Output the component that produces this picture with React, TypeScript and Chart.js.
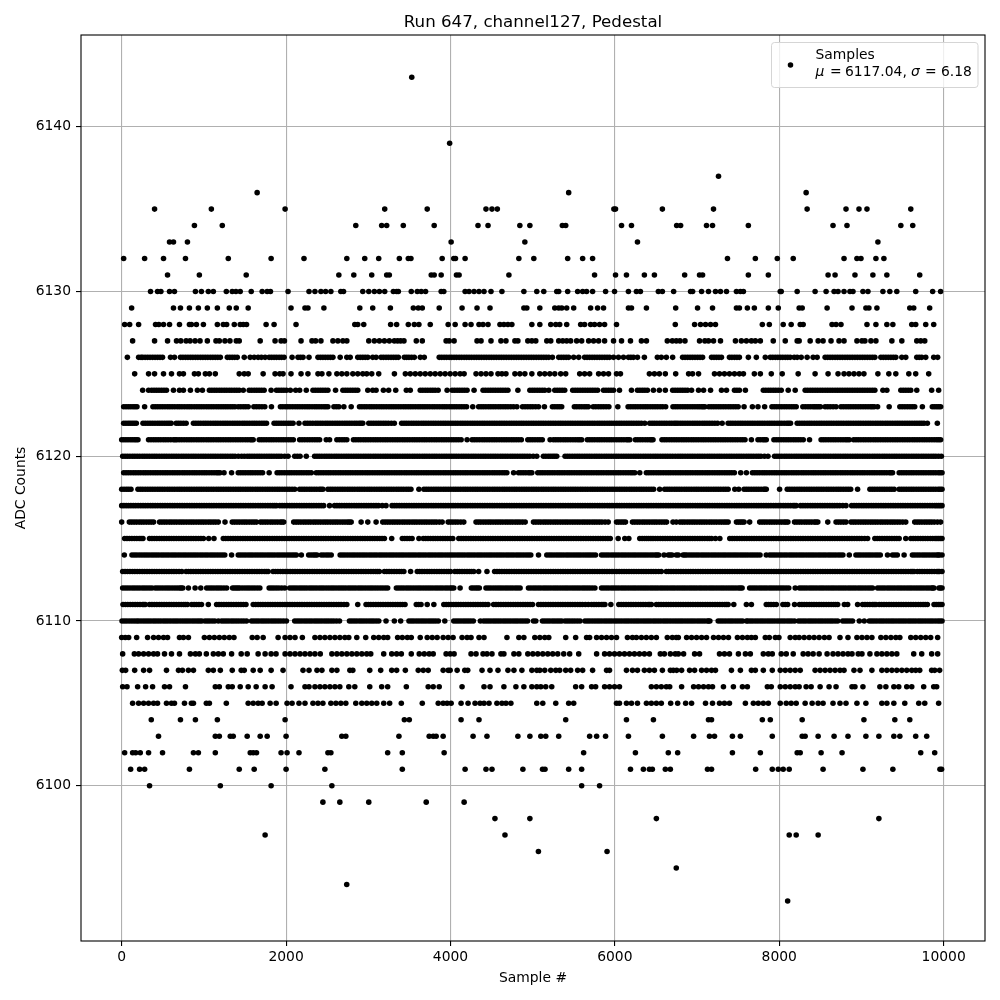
import React, { useEffect, useRef } from "react";
import { Chart, registerables } from "chart.js";

Chart.register(...registerables);

const titleText = "Run 647, channel127, Pedestal";
const xLabel = "Sample #";
const yLabel = "ADC Counts";
const legendName = "Samples";
const xTicks = [0, 2000, 4000, 6000, 8000, 10000];
const yTicks = [6100, 6110, 6120, 6130, 6140];

const s6143 = [3529];
const s6139 = [3990];
const s6137 = [7261];
const s6136 = [1648, 5438, 8327];
const s6135 = [400, 1091, 1988, 3200, 3717, 4432, 4505, 4570, 5988, 6008, 6578, 7200, 8339, 8812, 8970, 9067, 9600];
const s6134 = [885, 1224, 2848, 3163, 3224, 3426, 3802, 4335, 4457, 4844, 4966, 5361, 5402, 6081, 6202, 6752, 6800, 7115, 7188, 7624, 8654, 8824, 9479, 9624];
const s6133 = [582, 630, 800, 4008, 4905, 6275, 9200];
const s6132 = [24, 279, 509, 776, 1297, 1818, 2218, 2739, 2957, 3127, 3378, 3487, 3519, 3899, 4040, 4061, 4178, 4832, 5014, 5426, 5608, 5729, 7370, 7709, 7976, 8170, 8788, 8945, 8994, 9176, 9273];
const s6131 = [558, 945, 1515, 2642, 2824, 3042, 3224, 3256, 3766, 3802, 3887, 4073, 4105, 4711, 5753, 6008, 6141, 6359, 6481, 6849, 7030, 7067, 7624, 7867, 8594, 8679, 8921, 9139, 9309, 9709];
const s6130 = [351, 436, 477, 582, 642, 897, 970, 1054, 1115, 1273, 1345, 1390, 1442, 1576, 1709, 1770, 1810, 2024, 2279, 2351, 2424, 2481, 2545, 2666, 2699, 2933, 3006, 3074, 3135, 3200, 3305, 3345, 3366, 3523, 3596, 3644, 3697, 3887, 3919, 4178, 4226, 4287, 4347, 4408, 4493, 4626, 4893, 5050, 5135, 5293, 5317, 5426, 5547, 5608, 5656, 5729, 5887, 5996, 6165, 6262, 6311, 6529, 6578, 6715, 6921, 6946, 7055, 7139, 7224, 7285, 7358, 7479, 7527, 7564, 8012, 8024, 8218, 8436, 8570, 8667, 8715, 8788, 8860, 8897, 9018, 9079, 9261, 9345, 9430, 9660, 9866, 9963];
const s6129 = [121, 630, 715, 824, 933, 1042, 1164, 1309, 1394, 1539, 2060, 2230, 2266, 2460, 2897, 3054, 3269, 3548, 3608, 3657, 3863, 4141, 4323, 4481, 4893, 4929, 5087, 5269, 5317, 5354, 5414, 5499, 5705, 5790, 5862, 6165, 6202, 6384, 6740, 7006, 7188, 7479, 7515, 7612, 7697, 7867, 7988, 8242, 8279, 8582, 8885, 9054, 9091, 9188, 9588, 9636, 9830];
const s6128 = [36, 97, 206, 412, 452, 509, 582, 703, 824, 848, 909, 994, 1164, 1236, 1277, 1370, 1442, 1479, 1519, 1757, 1854, 2121, 2836, 2872, 2945, 3272, 3345, 3487, 3560, 3616, 3754, 3972, 4057, 4178, 4250, 4347, 4396, 4457, 4602, 4650, 4699, 4747, 4990, 5087, 5220, 5281, 5329, 5414, 5584, 5632, 5705, 5753, 5814, 5875, 6020, 6735, 6970, 7042, 7103, 7164, 7224, 7794, 7879, 8048, 8145, 8255, 8291, 8642, 8691, 8751, 9067, 9176, 9309, 9382, 9612, 9660, 9782, 9879];
const s6127 = [133, 400, 558, 667, 719, 784, 832, 893, 953, 1042, 1147, 1188, 1256, 1317, 1394, 1430, 1685, 1866, 1939, 1980, 2182, 2315, 2359, 2424, 2570, 2630, 2691, 2739, 3006, 3074, 3135, 3196, 3256, 3317, 3357, 3394, 3434, 3584, 3657, 3947, 3984, 4044, 4323, 4372, 4493, 4614, 4675, 4784, 4820, 4941, 4990, 5038, 5172, 5220, 5317, 5366, 5414, 5462, 5535, 5596, 5681, 5741, 5802, 5875, 5984, 6081, 6190, 6323, 6384, 6638, 6699, 6747, 6792, 6853, 7030, 7095, 7139, 7200, 7285, 7467, 7539, 7600, 7661, 7709, 7770, 7927, 8073, 8218, 8242, 8376, 8473, 8533, 8630, 8727, 8788, 8945, 9006, 9042, 9115, 9176, 9370, 9491, 9673, 9721, 9770];
const s6126 = [69, 206, 235, 255, 285, 315, 345, 376, 406, 436, 466, 497, 594, 642, 715, 745, 776, 806, 836, 866, 897, 927, 958, 988, 1018, 1048, 1079, 1109, 1139, 1169, 1200, 1285, 1315, 1345, 1375, 1406, 1491, 1563, 1612, 1660, 1700, 1745, 1794, 1824, 1854, 1884, 1915, 1945, 1976, 2073, 2145, 2175, 2206, 2279, 2388, 2418, 2448, 2478, 2509, 2539, 2570, 2658, 2739, 2780, 2872, 2902, 2933, 2963, 2994, 3054, 3095, 3155, 3185, 3216, 3246, 3277, 3307, 3337, 3366, 3439, 3467, 3495, 3527, 3560, 3633, 3681, 3863, 3893, 3923, 3953, 3984, 4014, 4044, 4074, 4105, 4135, 4166, 4196, 4226, 4256, 4287, 4317, 4347, 4377, 4408, 4438, 4469, 4499, 4529, 4559, 4590, 4620, 4650, 4680, 4711, 4741, 4772, 4802, 4832, 4862, 4893, 4923, 4954, 4984, 5014, 5044, 5075, 5105, 5135, 5165, 5196, 5240, 5317, 5347, 5378, 5408, 5438, 5499, 5560, 5632, 5662, 5693, 5723, 5753, 5783, 5814, 5844, 5875, 5905, 5935, 5984, 6044, 6105, 6165, 6195, 6226, 6275, 6359, 6517, 6565, 6626, 6703, 6824, 6854, 6885, 6915, 6945, 6975, 7006, 7036, 7067, 7176, 7206, 7236, 7266, 7297, 7394, 7424, 7455, 7485, 7515, 7624, 7721, 7830, 7891, 7921, 7952, 7982, 8012, 8042, 8073, 8103, 8133, 8182, 8218, 8267, 8339, 8412, 8461, 8558, 8588, 8618, 8648, 8679, 8709, 8739, 8769, 8800, 8830, 8860, 8890, 8921, 8951, 8982, 9012, 9042, 9072, 9103, 9133, 9163, 9236, 9266, 9297, 9327, 9358, 9388, 9418, 9491, 9539, 9673, 9703, 9733, 9782, 9879, 9927];
const s6125 = [158, 327, 400, 509, 606, 703, 751, 885, 933, 1018, 1067, 1139, 1430, 1491, 1539, 1721, 1866, 1923, 1963, 2060, 2182, 2266, 2388, 2436, 2521, 2618, 2678, 2739, 2812, 2872, 2933, 2981, 3042, 3127, 3318, 3451, 3511, 3572, 3632, 3693, 3754, 3814, 3875, 3935, 3996, 4057, 4117, 4166, 4311, 4372, 4432, 4493, 4578, 4626, 4675, 4784, 4844, 4905, 4990, 5087, 5147, 5208, 5269, 5341, 5402, 5572, 5632, 5693, 5802, 5862, 5923, 6020, 6068, 6420, 6481, 6541, 6614, 6740, 6897, 6945, 7018, 7212, 7273, 7333, 7394, 7455, 7515, 7564, 7697, 7770, 7903, 8036, 8230, 8436, 8594, 8715, 8788, 8848, 8909, 8970, 9030, 9200, 9333, 9418, 9576, 9660, 9818];
const s6124 = [255, 327, 364, 394, 424, 454, 485, 515, 545, 630, 703, 751, 836, 921, 982, 1067, 1097, 1127, 1157, 1188, 1218, 1248, 1278, 1309, 1339, 1370, 1400, 1430, 1479, 1551, 1581, 1612, 1642, 1672, 1702, 1733, 1818, 1883, 1913, 1943, 1973, 2004, 2052, 2117, 2165, 2246, 2327, 2357, 2388, 2418, 2448, 2478, 2509, 2602, 2691, 2721, 2751, 2781, 2812, 2842, 2872, 2994, 3054, 3095, 3184, 3248, 3334, 3463, 3511, 3632, 3662, 3693, 3723, 3754, 3784, 3814, 3850, 3959, 4020, 4050, 4081, 4111, 4141, 4171, 4202, 4287, 4396, 4426, 4457, 4487, 4517, 4547, 4578, 4608, 4638, 4668, 4699, 4820, 4966, 4996, 5026, 5056, 5087, 5117, 5147, 5196, 5269, 5299, 5329, 5359, 5390, 5487, 5517, 5547, 5577, 5608, 5638, 5669, 5699, 5729, 5759, 5790, 5862, 5892, 5923, 5953, 5984, 6056, 6202, 6275, 6305, 6335, 6365, 6396, 6469, 6541, 6614, 6703, 6733, 6764, 6794, 6824, 6854, 6885, 6933, 7018, 7079, 7164, 7297, 7358, 7455, 7485, 7515, 7588, 7806, 7836, 7867, 7897, 7927, 7957, 7988, 8024, 8109, 8194, 8315, 8345, 8376, 8406, 8436, 8466, 8497, 8527, 8558, 8588, 8618, 8648, 8679, 8709, 8739, 8769, 8800, 8830, 8860, 8890, 8921, 8951, 8982, 9012, 9042, 9072, 9103, 9133, 9163, 9261, 9309, 9479, 9509, 9539, 9569, 9600, 9673, 9854, 9939];
const s6123 = [24, 82, 138, 186, 279, 380, 438, 497, 558, 615, 676, 733, 795, 852, 914, 971, 1032, 1090, 1150, 1208, 1265, 1322, 1378, 1418, 1480, 1539, 1608, 1672, 1741, 1822, 1931, 1990, 2048, 2110, 2168, 2229, 2285, 2347, 2402, 2460, 2509, 2582, 2642, 2703, 2792, 2893, 2952, 3013, 3070, 3132, 3190, 3251, 3308, 3367, 3428, 3486, 3544, 3605, 3662, 3717, 3778, 3837, 3899, 3956, 4018, 4075, 4135, 4196, 4271, 4343, 4401, 4462, 4520, 4581, 4640, 4700, 4768, 4808, 4877, 4940, 5002, 5071, 5143, 5240, 5298, 5353, 5507, 5566, 5625, 5677, 5737, 5800, 5862, 5927, 6036, 6161, 6221, 6280, 6342, 6400, 6461, 6520, 6582, 6618, 6707, 6765, 6826, 6885, 6945, 7003, 7056, 7095, 7143, 7202, 7261, 7320, 7381, 7440, 7500, 7572, 7673, 7741, 7822, 7911, 7970, 8030, 8090, 8150, 8206, 8287, 8350, 8410, 8455, 8501, 8558, 8620, 8691, 8751, 8812, 8870, 8930, 8990, 9050, 9110, 9155, 9196, 9337, 9467, 9528, 9590, 9648, 9741, 9862, 9915, 9963];
const m6123 = [53, 110, 162, 409, 467, 527, 586, 645, 704, 764, 823, 883, 942, 1001, 1061, 1120, 1179, 1236, 1293, 1350, 1449, 1509, 1640, 1706, 1960, 2019, 2079, 2139, 2198, 2257, 2316, 2374, 2431, 2484, 2612, 2922, 2982, 3041, 3101, 3161, 3220, 3279, 3337, 3397, 3457, 3515, 3574, 3633, 3689, 3747, 3807, 3868, 3927, 3987, 4046, 4105, 4165, 4372, 4431, 4491, 4550, 4610, 4670, 4734, 4908, 4971, 5036, 5269, 5325, 5536, 5595, 5651, 5768, 5831, 5894, 6191, 6250, 6311, 6371, 6430, 6490, 6551, 6736, 6795, 6855, 6915, 6974, 7029, 7075, 7172, 7231, 7290, 7350, 7410, 7470, 7940, 8000, 8060, 8120, 8178, 8318, 8380, 8432, 8478, 8589, 8655, 8781, 8841, 8900, 8960, 9020, 9080, 9132, 9497, 9559, 9619, 9888, 9939];
const s6122 = [24, 78, 128, 178, 259, 318, 375, 436, 492, 550, 602, 663, 720, 784, 873, 931, 992, 1050, 1112, 1170, 1231, 1288, 1349, 1407, 1468, 1525, 1586, 1644, 1705, 1762, 1854, 1912, 1971, 2030, 2085, 2157, 2230, 2292, 2359, 2416, 2477, 2534, 2595, 2653, 2714, 2771, 2832, 2889, 2933, 3006, 3065, 3125, 3184, 3245, 3317, 3406, 3464, 3525, 3583, 3644, 3702, 3763, 3821, 3882, 3940, 4001, 4059, 4120, 4178, 4239, 4297, 4358, 4416, 4477, 4535, 4596, 4654, 4715, 4773, 4834, 4892, 4953, 5011, 5072, 5130, 5191, 5249, 5310, 5368, 5429, 5487, 5548, 5606, 5667, 5725, 5786, 5844, 5905, 5963, 6024, 6082, 6143, 6201, 6262, 6323, 6363, 6424, 6482, 6543, 6601, 6662, 6720, 6767, 6825, 6884, 6945, 7003, 7064, 7122, 7183, 7249, 7305, 7378, 7436, 7497, 7555, 7616, 7674, 7735, 7793, 7854, 7912, 7973, 8031, 8092, 8137, 8218, 8277, 8338, 8396, 8457, 8515, 8576, 8634, 8695, 8753, 8814, 8872, 8933, 8991, 9052, 9110, 9171, 9229, 9290, 9348, 9409, 9467, 9528, 9586, 9647, 9705, 9761, 9802, 9923];
const m6122 = [51, 103, 153, 288, 346, 405, 464, 521, 576, 691, 752, 902, 961, 1021, 1081, 1141, 1200, 1259, 1318, 1378, 1437, 1496, 1555, 1615, 1674, 1733, 1883, 1941, 2000, 2057, 2261, 2325, 2387, 2446, 2505, 2564, 2624, 2683, 2742, 2801, 2860, 2911, 3035, 3095, 3154, 3214, 3281, 3435, 3494, 3554, 3613, 3673, 3732, 3792, 3851, 3911, 3970, 4030, 4089, 4149, 4208, 4268, 4327, 4387, 4446, 4506, 4565, 4625, 4684, 4744, 4803, 4863, 4922, 4982, 5041, 5101, 5160, 5220, 5279, 5339, 5398, 5458, 5517, 5577, 5636, 5696, 5755, 5815, 5874, 5934, 5993, 6053, 6112, 6172, 6231, 6292, 6453, 6512, 6572, 6631, 6691, 6743, 6796, 6854, 6914, 6974, 7033, 7093, 7152, 7216, 7407, 7466, 7526, 7585, 7645, 7704, 7764, 7823, 7883, 7942, 8002, 8061, 8114, 8247, 8307, 8367, 8426, 8486, 8545, 8605, 8664, 8724, 8783, 8843, 8902, 8962, 9021, 9081, 9140, 9200, 9259, 9319, 9378, 9438, 9497, 9557, 9616, 9676, 9733];
const s6121 = [0, 52, 105, 155, 198, 327, 388, 446, 507, 565, 630, 671, 730, 791, 849, 910, 968, 1029, 1087, 1148, 1206, 1267, 1325, 1386, 1444, 1505, 1563, 1600, 1673, 1731, 1792, 1850, 1911, 1969, 2030, 2088, 2165, 2226, 2288, 2349, 2408, 2489, 2529, 2618, 2680, 2739, 2820, 2879, 2940, 2998, 3059, 3117, 3178, 3236, 3297, 3355, 3416, 3474, 3535, 3593, 3654, 3712, 3773, 3831, 3892, 3950, 4011, 4069, 4130, 4202, 4263, 4322, 4385, 4444, 4505, 4563, 4624, 4682, 4743, 4801, 4862, 4941, 4998, 5059, 5117, 5212, 5252, 5310, 5371, 5429, 5490, 5548, 5596, 5665, 5723, 5784, 5842, 5903, 5961, 6022, 6080, 6141, 6182, 6250, 6308, 6369, 6427, 6464, 6573, 6631, 6692, 6750, 6811, 6869, 6930, 6988, 7049, 7107, 7168, 7226, 7287, 7345, 7406, 7464, 7525, 7583, 7661, 7741, 7800, 7842, 7935, 7993, 8054, 8112, 8173, 8231, 8292, 8368, 8509, 8567, 8628, 8686, 8747, 8805, 8852, 8905, 8963, 9024, 9082, 9143, 9201, 9262, 9320, 9381, 9439, 9500, 9558, 9619, 9677, 9738, 9796, 9857, 9915, 9963];
const m6121 = [26, 78, 130, 176, 357, 417, 476, 536, 597, 650, 700, 760, 820, 879, 939, 998, 1058, 1117, 1177, 1236, 1296, 1355, 1415, 1474, 1534, 1581, 1702, 1761, 1821, 1880, 1940, 1999, 2059, 2195, 2257, 2318, 2378, 2649, 2709, 2849, 2909, 2969, 3028, 3088, 3147, 3207, 3266, 3326, 3385, 3445, 3504, 3564, 3623, 3683, 3742, 3802, 3861, 3921, 3980, 4040, 4099, 4292, 4353, 4414, 4474, 4534, 4593, 4653, 4712, 4772, 4831, 4969, 5028, 5088, 5281, 5340, 5400, 5459, 5519, 5572, 5694, 5753, 5813, 5872, 5932, 5991, 6051, 6110, 6161, 6279, 6338, 6398, 6445, 6602, 6661, 6721, 6780, 6840, 6899, 6959, 7018, 7078, 7137, 7197, 7256, 7316, 7375, 7435, 7494, 7554, 7770, 7821, 7964, 8023, 8083, 8142, 8202, 8261, 8538, 8597, 8657, 8716, 8776, 8828, 8934, 8993, 9053, 9112, 9172, 9231, 9291, 9350, 9410, 9469, 9529, 9588, 9648, 9707, 9767, 9826, 9886, 9939];
const s6120 = [12, 70, 131, 189, 250, 308, 369, 427, 488, 546, 607, 665, 726, 784, 845, 903, 964, 1022, 1083, 1141, 1202, 1260, 1321, 1379, 1459, 1527, 1585, 1646, 1704, 1765, 1823, 1884, 1942, 2024, 2105, 2170, 2246, 2347, 2405, 2466, 2524, 2585, 2643, 2704, 2762, 2823, 2881, 2942, 3000, 3061, 3119, 3180, 3238, 3299, 3357, 3418, 3476, 3537, 3595, 3656, 3714, 3775, 3833, 3894, 3952, 4013, 4071, 4132, 4190, 4251, 4309, 4370, 4428, 4489, 4547, 4608, 4666, 4727, 4785, 4846, 4904, 4965, 5050, 5131, 5190, 5244, 5293, 5394, 5452, 5513, 5571, 5632, 5690, 5751, 5809, 5870, 5928, 5989, 6047, 6108, 6166, 6227, 6285, 6346, 6404, 6465, 6523, 6584, 6642, 6703, 6767, 6825, 6886, 6944, 7005, 7063, 7124, 7182, 7243, 7301, 7362, 7420, 7481, 7539, 7600, 7658, 7719, 7777, 7863, 7943, 8001, 8062, 8120, 8181, 8239, 8300, 8358, 8419, 8477, 8538, 8596, 8657, 8715, 8776, 8834, 8895, 8953, 9014, 9072, 9133, 9191, 9252, 9310, 9371, 9429, 9490, 9548, 9609, 9667, 9728, 9786, 9847, 9905, 9972];
const m6120 = [41, 100, 160, 219, 279, 338, 398, 457, 517, 576, 636, 695, 755, 814, 874, 933, 993, 1052, 1112, 1171, 1231, 1290, 1350, 1419, 1492, 1556, 1615, 1675, 1734, 1794, 1853, 1913, 1983, 2137, 2376, 2435, 2495, 2554, 2614, 2673, 2733, 2792, 2852, 2911, 2971, 3030, 3090, 3149, 3209, 3268, 3328, 3387, 3447, 3506, 3566, 3625, 3685, 3744, 3804, 3863, 3923, 3982, 4042, 4101, 4161, 4220, 4280, 4339, 4399, 4458, 4518, 4577, 4637, 4696, 4756, 4815, 4875, 4934, 5007, 5160, 5217, 5268, 5423, 5482, 5542, 5601, 5661, 5720, 5780, 5839, 5899, 5958, 6018, 6077, 6137, 6196, 6256, 6315, 6375, 6434, 6494, 6553, 6613, 6672, 6735, 6796, 6855, 6915, 6974, 7034, 7093, 7153, 7212, 7272, 7331, 7391, 7450, 7510, 7569, 7629, 7688, 7748, 7820, 7972, 8031, 8091, 8150, 8210, 8269, 8329, 8388, 8448, 8507, 8567, 8626, 8686, 8745, 8805, 8864, 8924, 8983, 9043, 9102, 9162, 9221, 9281, 9340, 9400, 9459, 9519, 9578, 9638, 9697, 9757, 9816, 9876, 9938];
const s6119 = [24, 82, 143, 201, 262, 320, 381, 439, 500, 558, 619, 677, 738, 796, 857, 915, 976, 1034, 1095, 1153, 1196, 1245, 1337, 1418, 1476, 1537, 1595, 1656, 1714, 1794, 1891, 1949, 2010, 2068, 2129, 2187, 2248, 2307, 2367, 2425, 2486, 2544, 2605, 2663, 2724, 2782, 2843, 2901, 2962, 3020, 3081, 3139, 3200, 3258, 3319, 3377, 3438, 3496, 3557, 3615, 3676, 3734, 3795, 3853, 3914, 3972, 4033, 4091, 4152, 4210, 4271, 4329, 4390, 4448, 4509, 4567, 4628, 4686, 4768, 4828, 4886, 4947, 4990, 5062, 5120, 5181, 5239, 5300, 5358, 5419, 5477, 5538, 5596, 5657, 5715, 5776, 5834, 5895, 5953, 6014, 6072, 6133, 6191, 6242, 6303, 6383, 6441, 6502, 6560, 6621, 6679, 6740, 6798, 6859, 6917, 6978, 7036, 7097, 7155, 7216, 7274, 7335, 7393, 7454, 7531, 7600, 7673, 7731, 7792, 7850, 7911, 7969, 8030, 8088, 8149, 8207, 8268, 8326, 8387, 8445, 8506, 8564, 8625, 8683, 8744, 8802, 8863, 8921, 8982, 9040, 9101, 9159, 9220, 9278, 9339, 9378, 9459, 9517, 9578, 9636, 9697, 9755, 9816, 9874, 9935, 9980];
const m6119 = [53, 112, 172, 231, 291, 350, 410, 469, 529, 588, 648, 707, 767, 826, 886, 945, 1005, 1064, 1124, 1174, 1447, 1506, 1566, 1625, 1685, 1920, 1979, 2039, 2098, 2158, 2217, 2277, 2396, 2455, 2515, 2574, 2634, 2693, 2753, 2812, 2872, 2931, 2991, 3050, 3110, 3169, 3229, 3288, 3348, 3407, 3467, 3526, 3586, 3645, 3705, 3764, 3824, 3883, 3943, 4002, 4062, 4121, 4181, 4240, 4300, 4359, 4419, 4478, 4538, 4597, 4657, 4857, 4916, 4968, 5091, 5150, 5210, 5269, 5329, 5388, 5448, 5507, 5567, 5626, 5686, 5745, 5805, 5864, 5924, 5983, 6043, 6102, 6162, 6216, 6412, 6471, 6531, 6590, 6650, 6709, 6769, 6828, 6888, 6947, 7007, 7066, 7126, 7185, 7245, 7304, 7364, 7423, 7702, 7761, 7821, 7880, 7940, 7999, 8059, 8118, 8178, 8237, 8297, 8356, 8416, 8475, 8535, 8594, 8654, 8713, 8773, 8832, 8892, 8951, 9011, 9070, 9130, 9189, 9249, 9308, 9358, 9488, 9547, 9607, 9666, 9726, 9785, 9845, 9904, 9957];
const s6118 = [0, 58, 113, 198, 256, 317, 375, 436, 494, 555, 613, 674, 732, 793, 851, 912, 970, 1031, 1089, 1150, 1208, 1269, 1327, 1388, 1446, 1507, 1565, 1626, 1684, 1745, 1803, 1864, 1922, 1983, 2041, 2105, 2165, 2223, 2284, 2342, 2403, 2448, 2509, 2567, 2628, 2686, 2747, 2805, 2866, 2924, 2985, 3043, 3104, 3162, 3223, 3281, 3342, 3400, 3461, 3519, 3616, 3677, 3735, 3796, 3854, 3915, 3973, 4034, 4092, 4153, 4211, 4272, 4330, 4391, 4449, 4510, 4568, 4629, 4687, 4748, 4806, 4867, 4925, 4986, 5044, 5105, 5163, 5224, 5282, 5343, 5401, 5462, 5520, 5581, 5639, 5700, 5758, 5819, 5877, 5938, 5996, 6057, 6115, 6176, 6234, 6295, 6353, 6414, 6472, 6545, 6606, 6664, 6725, 6783, 6844, 6902, 6963, 7021, 7082, 7140, 7201, 7259, 7320, 7378, 7459, 7507, 7572, 7630, 7691, 7749, 7810, 7842, 8004, 8097, 8155, 8216, 8274, 8335, 8393, 8454, 8512, 8573, 8631, 8692, 8750, 8811, 8869, 8953, 9103, 9161, 9222, 9280, 9341, 9398, 9459, 9517, 9578, 9636, 9697, 9755, 9816, 9874, 9935, 9980];
const m6118 = [29, 85, 227, 286, 346, 405, 465, 524, 584, 643, 703, 762, 822, 881, 941, 1000, 1060, 1119, 1179, 1238, 1298, 1357, 1417, 1476, 1536, 1595, 1655, 1714, 1774, 1833, 1893, 1952, 2012, 2073, 2194, 2253, 2313, 2372, 2425, 2538, 2597, 2657, 2716, 2776, 2835, 2895, 2954, 3014, 3073, 3133, 3192, 3252, 3311, 3371, 3430, 3490, 3706, 3765, 3825, 3884, 3944, 4003, 4063, 4122, 4182, 4241, 4301, 4360, 4420, 4479, 4539, 4598, 4658, 4717, 4777, 4836, 4896, 4955, 5015, 5074, 5134, 5193, 5253, 5312, 5372, 5431, 5491, 5550, 5610, 5669, 5729, 5788, 5848, 5907, 5967, 6026, 6086, 6145, 6205, 6264, 6324, 6383, 6443, 6635, 6694, 6754, 6813, 6873, 6932, 6992, 7051, 7111, 7170, 7230, 7289, 7349, 7601, 7660, 7720, 7779, 7826, 8126, 8185, 8245, 8304, 8364, 8423, 8483, 8542, 8602, 8661, 8721, 8780, 8840, 9132, 9191, 9251, 9310, 9369, 9488, 9547, 9607, 9666, 9726, 9785, 9845, 9904, 9957];
const s6117 = [0, 55, 112, 170, 231, 289, 350, 408, 469, 527, 588, 646, 707, 765, 826, 884, 945, 1003, 1064, 1122, 1183, 1241, 1302, 1360, 1421, 1479, 1540, 1598, 1659, 1717, 1778, 1836, 1883, 1923, 1981, 2042, 2100, 2161, 2219, 2280, 2338, 2399, 2457, 2529, 2590, 2648, 2709, 2767, 2828, 2886, 2947, 3005, 3066, 3124, 3216, 3289, 3347, 3408, 3466, 3527, 3585, 3646, 3704, 3765, 3823, 3884, 3942, 4003, 4061, 4122, 4180, 4241, 4299, 4360, 4418, 4479, 4537, 4598, 4656, 4717, 4775, 4836, 4894, 4955, 5013, 5074, 5132, 5193, 5251, 5312, 5370, 5431, 5489, 5550, 5608, 5669, 5727, 5788, 5846, 5907, 5965, 6026, 6084, 6145, 6203, 6264, 6322, 6383, 6441, 6502, 6560, 6621, 6679, 6740, 6798, 6859, 6917, 6978, 7036, 7097, 7155, 7216, 7274, 7335, 7393, 7454, 7512, 7573, 7631, 7692, 7750, 7811, 7869, 7930, 7988, 8049, 8107, 8168, 8206, 8259, 8317, 8378, 8436, 8497, 8555, 8616, 8674, 8735, 8812, 8881, 8939, 9000, 9058, 9119, 9177, 9238, 9296, 9357, 9415, 9476, 9534, 9595, 9653, 9714, 9772, 9833, 9891, 9936, 9980];
const m6117 = [27, 83, 141, 200, 260, 319, 379, 438, 498, 557, 617, 676, 736, 795, 855, 914, 974, 1033, 1093, 1152, 1212, 1271, 1331, 1390, 1450, 1509, 1569, 1628, 1688, 1747, 1807, 1860, 1952, 2011, 2071, 2130, 2190, 2249, 2309, 2368, 2428, 2619, 2678, 2738, 2797, 2857, 2916, 2976, 3035, 3095, 3170, 3318, 3377, 3437, 3496, 3556, 3615, 3675, 3734, 3794, 3853, 3913, 3972, 4032, 4091, 4151, 4210, 4270, 4329, 4389, 4448, 4508, 4567, 4627, 4686, 4746, 4805, 4865, 4924, 4984, 5043, 5103, 5162, 5222, 5281, 5341, 5400, 5460, 5519, 5579, 5638, 5698, 5757, 5817, 5876, 5936, 5995, 6055, 6114, 6174, 6233, 6293, 6352, 6412, 6471, 6531, 6590, 6650, 6709, 6769, 6828, 6888, 6947, 7007, 7066, 7126, 7185, 7245, 7304, 7364, 7423, 7483, 7542, 7602, 7661, 7721, 7780, 7840, 7899, 7959, 8018, 8078, 8137, 8187, 8288, 8347, 8407, 8466, 8526, 8585, 8645, 8704, 8773, 8910, 8969, 9029, 9088, 9148, 9207, 9267, 9326, 9386, 9445, 9505, 9564, 9624, 9683, 9743, 9802, 9862, 9913, 9958];
const s6116 = [0, 93, 151, 212, 270, 331, 388, 461, 519, 580, 638, 699, 757, 818, 876, 937, 995, 1056, 1114, 1175, 1257, 1345, 1403, 1464, 1522, 1583, 1640, 1689, 1747, 1808, 1866, 1927, 1971, 2093, 2151, 2212, 2270, 2331, 2389, 2450, 2508, 2569, 2627, 2688, 2746, 2792, 2913, 2994, 3095, 3176, 3234, 3295, 3353, 3414, 3472, 3533, 3591, 3652, 3710, 3771, 3829, 3899, 3972, 4030, 4091, 4162, 4311, 4369, 4430, 4488, 4549, 4607, 4668, 4726, 4787, 4845, 4909, 5010, 5068, 5129, 5187, 5248, 5306, 5367, 5425, 5486, 5544, 5605, 5663, 5724, 5782, 5843, 5919, 6020, 6075, 6129, 6214, 6272, 6333, 6391, 6452, 6510, 6571, 6629, 6707, 6747, 6792, 6850, 6911, 6969, 7030, 7088, 7149, 7207, 7268, 7326, 7378, 7479, 7527, 7572, 7640, 7762, 7820, 7881, 7939, 8000, 8058, 8105, 8186, 8244, 8305, 8363, 8424, 8469, 8590, 8691, 8750, 8812, 8873, 8931, 8992, 9050, 9111, 9169, 9230, 9288, 9349, 9407, 9468, 9539, 9648, 9706, 9767, 9825, 9886, 9963];
const m6116 = [122, 181, 241, 300, 359, 490, 549, 609, 668, 728, 787, 847, 906, 966, 1025, 1085, 1144, 1374, 1433, 1493, 1552, 1611, 1718, 1777, 1837, 1896, 1949, 2122, 2181, 2241, 2300, 2360, 2419, 2479, 2538, 2598, 2657, 2717, 2769, 3205, 3264, 3324, 3383, 3443, 3502, 3562, 3621, 3681, 3740, 3800, 3864, 4001, 4060, 4126, 4340, 4399, 4459, 4518, 4578, 4637, 4697, 4756, 4816, 4877, 5039, 5098, 5158, 5217, 5277, 5336, 5396, 5455, 5515, 5574, 5634, 5693, 5753, 5812, 5881, 6047, 6102, 6243, 6302, 6362, 6421, 6481, 6540, 6600, 6821, 6880, 6940, 6999, 7059, 7118, 7178, 7237, 7297, 7352, 7503, 7549, 7791, 7850, 7910, 7969, 8029, 8081, 8215, 8274, 8334, 8393, 8446, 8720, 8781, 8902, 8961, 9021, 9080, 9140, 9199, 9259, 9318, 9378, 9437, 9503, 9677, 9736, 9796, 9855, 9924];
const s6115 = [36, 94, 155, 213, 259, 339, 397, 458, 516, 577, 635, 696, 754, 815, 873, 934, 994, 1059, 1123, 1236, 1294, 1355, 1413, 1474, 1532, 1593, 1651, 1712, 1770, 1831, 1889, 1950, 2008, 2069, 2127, 2188, 2246, 2307, 2365, 2426, 2484, 2545, 2603, 2664, 2722, 2783, 2841, 2902, 2960, 3021, 3079, 3140, 3196, 3285, 3414, 3472, 3533, 3616, 3669, 3727, 3788, 3846, 3907, 3965, 4028, 4101, 4159, 4220, 4278, 4339, 4397, 4458, 4516, 4577, 4635, 4696, 4754, 4815, 4873, 4934, 4992, 5053, 5111, 5172, 5230, 5291, 5349, 5410, 5468, 5529, 5587, 5648, 5706, 5767, 5825, 5886, 5944, 6040, 6121, 6170, 6303, 6361, 6412, 6464, 6522, 6583, 6641, 6702, 6767, 6825, 6886, 6944, 7005, 7063, 7124, 7176, 7224, 7277, 7398, 7456, 7517, 7575, 7636, 7694, 7755, 7813, 7874, 7932, 7993, 8051, 8112, 8170, 8231, 8289, 8350, 8408, 8469, 8527, 8588, 8646, 8707, 8765, 8826, 8884, 8945, 9003, 9075, 9163, 9221, 9282, 9340, 9401, 9459, 9539, 9600, 9658, 9719, 9777, 9838, 9896, 9940, 9980];
const m6115 = [65, 124, 184, 236, 368, 427, 487, 546, 606, 665, 725, 784, 844, 903, 964, 1265, 1324, 1384, 1443, 1503, 1562, 1622, 1681, 1741, 1800, 1860, 1919, 1979, 2038, 2098, 2157, 2217, 2276, 2336, 2395, 2455, 2514, 2574, 2633, 2693, 2752, 2812, 2871, 2931, 2990, 3050, 3109, 3168, 3443, 3502, 3698, 3757, 3817, 3876, 3936, 3996, 4130, 4189, 4249, 4308, 4368, 4427, 4487, 4546, 4606, 4665, 4725, 4784, 4844, 4903, 4963, 5022, 5082, 5141, 5201, 5260, 5320, 5379, 5439, 5498, 5558, 5617, 5677, 5736, 5796, 5855, 5915, 6332, 6387, 6438, 6493, 6552, 6612, 6671, 6734, 6796, 6855, 6915, 6974, 7034, 7093, 7150, 7427, 7486, 7546, 7605, 7665, 7724, 7784, 7843, 7903, 7962, 8022, 8081, 8141, 8200, 8260, 8319, 8379, 8438, 8498, 8557, 8617, 8676, 8736, 8795, 8855, 8914, 8974, 9039, 9192, 9251, 9311, 9370, 9430, 9629, 9688, 9748, 9807, 9867, 9918, 9960];
const s6114 = [32, 125, 183, 244, 302, 363, 421, 482, 540, 601, 659, 720, 778, 839, 897, 958, 1016, 1077, 1135, 1196, 1254, 1337, 1418, 1476, 1537, 1595, 1656, 1714, 1775, 1833, 1894, 1952, 2013, 2071, 2125, 2186, 2275, 2330, 2376, 2428, 2490, 2549, 2658, 2716, 2777, 2835, 2896, 2954, 3015, 3073, 3134, 3192, 3253, 3311, 3372, 3430, 3491, 3549, 3610, 3668, 3729, 3787, 3848, 3906, 3967, 4025, 4086, 4144, 4205, 4263, 4324, 4382, 4443, 4501, 4562, 4620, 4681, 4739, 4800, 4858, 4919, 4977, 5071, 5172, 5230, 5291, 5349, 5410, 5467, 5527, 5585, 5646, 5704, 5765, 5838, 5896, 5957, 6015, 6076, 6134, 6195, 6253, 6314, 6372, 6433, 6491, 6533, 6598, 6650, 6695, 6747, 6772, 6830, 6873, 6933, 6991, 7052, 7110, 7171, 7229, 7290, 7348, 7409, 7467, 7528, 7586, 7647, 7705, 7766, 7842, 7883, 7941, 8002, 8060, 8121, 8179, 8240, 8298, 8359, 8417, 8478, 8536, 8597, 8655, 8716, 8774, 8852, 8933, 8991, 9052, 9110, 9171, 9229, 9317, 9378, 9436, 9519, 9620, 9678, 9739, 9797, 9858, 9916, 9950, 9980];
const m6114 = [154, 213, 273, 332, 392, 451, 511, 570, 630, 689, 749, 808, 868, 927, 987, 1046, 1106, 1165, 1225, 1447, 1506, 1566, 1625, 1685, 1744, 1804, 1863, 1923, 1982, 2042, 2098, 2303, 2353, 2459, 2519, 2687, 2746, 2806, 2865, 2925, 2984, 3044, 3103, 3163, 3222, 3282, 3341, 3401, 3460, 3520, 3579, 3639, 3698, 3758, 3817, 3877, 3936, 3996, 4055, 4115, 4174, 4234, 4293, 4353, 4412, 4472, 4531, 4591, 4650, 4710, 4769, 4829, 4888, 4948, 5201, 5260, 5320, 5379, 5438, 5497, 5556, 5615, 5675, 5734, 5867, 5926, 5986, 6045, 6105, 6164, 6224, 6283, 6343, 6402, 6462, 6512, 6672, 6851, 6903, 6962, 7021, 7081, 7140, 7200, 7259, 7319, 7378, 7438, 7497, 7557, 7616, 7676, 7735, 7912, 7971, 8031, 8090, 8150, 8209, 8269, 8328, 8388, 8447, 8507, 8566, 8626, 8685, 8745, 8962, 9021, 9081, 9140, 9200, 9407, 9649, 9708, 9768, 9827, 9887, 9933];
const s6113 = [12, 70, 131, 189, 250, 308, 369, 427, 488, 546, 607, 665, 731, 784, 842, 903, 961, 1022, 1080, 1141, 1199, 1260, 1318, 1379, 1437, 1498, 1556, 1617, 1675, 1736, 1782, 1842, 1900, 1961, 2019, 2080, 2138, 2199, 2257, 2318, 2376, 2437, 2495, 2556, 2614, 2675, 2733, 2794, 2852, 2913, 2971, 3032, 3090, 3135, 3196, 3254, 3315, 3377, 3433, 3515, 3596, 3654, 3715, 3773, 3834, 3892, 3953, 4000, 4053, 4111, 4172, 4230, 4283, 4343, 4444, 4537, 4595, 4656, 4714, 4775, 4833, 4894, 4952, 5013, 5071, 5132, 5190, 5251, 5309, 5370, 5428, 5489, 5547, 5608, 5666, 5727, 5785, 5846, 5904, 5965, 6023, 6084, 6142, 6203, 6261, 6322, 6380, 6441, 6499, 6565, 6626, 6684, 6745, 6803, 6864, 6922, 6983, 7041, 7102, 7160, 7221, 7279, 7340, 7398, 7459, 7517, 7578, 7636, 7697, 7755, 7816, 7874, 7935, 7993, 8054, 8112, 8173, 8231, 8292, 8350, 8411, 8469, 8530, 8588, 8649, 8707, 8768, 8826, 8887, 8945, 9006, 9064, 9125, 9183, 9244, 9302, 9363, 9421, 9482, 9540, 9601, 9640, 9680, 9738, 9799, 9857, 9918, 9950, 9980];
const m6113 = [41, 100, 160, 219, 279, 338, 398, 457, 517, 576, 636, 698, 813, 872, 932, 991, 1051, 1110, 1170, 1229, 1289, 1348, 1408, 1467, 1527, 1586, 1646, 1705, 1759, 1871, 1930, 1990, 2049, 2109, 2168, 2228, 2287, 2347, 2406, 2466, 2525, 2585, 2644, 2704, 2763, 2823, 2882, 2942, 3001, 3061, 3112, 3225, 3284, 3346, 3405, 3625, 3684, 3744, 3803, 3863, 3922, 3976, 4082, 4141, 4201, 4256, 4566, 4625, 4685, 4744, 4804, 4863, 4923, 4982, 5042, 5101, 5161, 5220, 5280, 5339, 5399, 5458, 5518, 5577, 5637, 5696, 5756, 5815, 5875, 5934, 5994, 6053, 6113, 6172, 6232, 6291, 6351, 6410, 6470, 6532, 6655, 6714, 6774, 6833, 6893, 6952, 7012, 7071, 7131, 7190, 7250, 7309, 7369, 7428, 7488, 7547, 7607, 7666, 7726, 7785, 7845, 7904, 7964, 8023, 8083, 8142, 8202, 8261, 8321, 8380, 8440, 8499, 8559, 8618, 8678, 8737, 8797, 8856, 8916, 8975, 9035, 9094, 9154, 9213, 9273, 9332, 9392, 9451, 9511, 9570, 9620, 9709, 9768, 9828, 9887, 9934];
const s6112 = [12, 70, 131, 189, 250, 308, 368, 408, 466, 527, 585, 646, 704, 743, 812, 893, 962, 1034, 1092, 1153, 1211, 1277, 1349, 1395, 1438, 1499, 1557, 1618, 1681, 1794, 1852, 1913, 1984, 2044, 2102, 2163, 2221, 2282, 2340, 2401, 2459, 2520, 2578, 2639, 2697, 2758, 2816, 2877, 2935, 2996, 3054, 3115, 3176, 3236, 3342, 3400, 3461, 3519, 3580, 3638, 3699, 3757, 3818, 3876, 3937, 3995, 4040, 4117, 4254, 4305, 4351, 4432, 4490, 4551, 4609, 4670, 4728, 4789, 4847, 4949, 5010, 5068, 5129, 5187, 5248, 5306, 5367, 5425, 5486, 5544, 5605, 5663, 5724, 5757, 5838, 5896, 5957, 6015, 6076, 6134, 6195, 6253, 6314, 6372, 6433, 6491, 6552, 6610, 6671, 6729, 6790, 6848, 6909, 6967, 7028, 7086, 7147, 7205, 7266, 7324, 7385, 7443, 7504, 7548, 7640, 7698, 7759, 7817, 7878, 7936, 7997, 8055, 8116, 8194, 8246, 8304, 8365, 8423, 8484, 8542, 8603, 8661, 8722, 8780, 8841, 8899, 8960, 9018, 9079, 9135, 9196, 9254, 9315, 9373, 9434, 9492, 9553, 9611, 9672, 9730, 9791, 9849, 9882, 9943, 9980];
const m6112 = [41, 100, 160, 219, 279, 338, 437, 496, 556, 615, 675, 723, 1063, 1122, 1182, 1244, 1372, 1416, 1468, 1528, 1587, 1649, 1823, 1882, 1948, 2073, 2132, 2192, 2251, 2311, 2370, 2430, 2489, 2549, 2608, 2668, 2727, 2787, 2846, 2906, 2965, 3025, 3084, 3145, 3206, 3371, 3430, 3490, 3549, 3609, 3668, 3728, 3787, 3847, 3906, 3966, 4017, 4278, 4328, 4461, 4520, 4580, 4639, 4699, 4758, 4818, 4979, 5039, 5098, 5158, 5217, 5277, 5336, 5396, 5455, 5515, 5574, 5634, 5693, 5867, 5926, 5986, 6045, 6105, 6164, 6224, 6283, 6343, 6402, 6462, 6521, 6581, 6640, 6700, 6759, 6819, 6878, 6938, 6997, 7057, 7116, 7176, 7235, 7295, 7354, 7414, 7473, 7526, 7669, 7728, 7788, 7847, 7907, 7966, 8026, 8085, 8275, 8334, 8394, 8453, 8513, 8572, 8632, 8691, 8751, 8810, 8870, 8929, 8989, 9048, 9107, 9225, 9284, 9344, 9403, 9463, 9522, 9582, 9641, 9701, 9760, 9820, 9866, 9961];
const s6111 = [16, 74, 135, 193, 254, 287, 339, 397, 458, 516, 577, 635, 696, 754, 800, 852, 910, 971, 1054, 1155, 1213, 1274, 1332, 1393, 1451, 1512, 1600, 1660, 1718, 1779, 1837, 1898, 1956, 2017, 2075, 2136, 2194, 2255, 2313, 2374, 2432, 2493, 2551, 2612, 2670, 2739, 2872, 2973, 3031, 3092, 3150, 3211, 3269, 3330, 3388, 3447, 3584, 3642, 3717, 3798, 3919, 3977, 4038, 4096, 4157, 4215, 4276, 4334, 4395, 4457, 4525, 4583, 4644, 4702, 4763, 4821, 4882, 4940, 4998, 5071, 5129, 5190, 5248, 5309, 5367, 5428, 5486, 5547, 5605, 5677, 5717, 5775, 5836, 5879, 5951, 6048, 6106, 6167, 6225, 6286, 6344, 6405, 6444, 6505, 6563, 6624, 6682, 6743, 6801, 6862, 6920, 6981, 7039, 7100, 7158, 7219, 7277, 7337, 7378, 7447, 7600, 7661, 7842, 7900, 7964, 8044, 8102, 8186, 8246, 8304, 8365, 8423, 8484, 8542, 8603, 8661, 8711, 8792, 8832, 8953, 9014, 9072, 9133, 9176, 9216, 9274, 9335, 9393, 9454, 9512, 9573, 9631, 9692, 9750, 9802, 9883, 9935, 9980];
const m6111 = [45, 104, 164, 223, 270, 368, 427, 487, 546, 606, 665, 725, 777, 881, 940, 1184, 1243, 1303, 1362, 1422, 1481, 1630, 1689, 1748, 1808, 1867, 1927, 1986, 2046, 2105, 2165, 2224, 2284, 2343, 2403, 2462, 2522, 2581, 2641, 2705, 3002, 3061, 3121, 3180, 3240, 3299, 3359, 3417, 3613, 3948, 4007, 4067, 4126, 4186, 4245, 4305, 4364, 4425, 4554, 4613, 4673, 4732, 4792, 4851, 4911, 4969, 5100, 5159, 5219, 5278, 5338, 5397, 5457, 5516, 5576, 5641, 5746, 5805, 5857, 6077, 6136, 6196, 6255, 6315, 6374, 6424, 6534, 6593, 6653, 6712, 6772, 6831, 6891, 6950, 7010, 7069, 7129, 7188, 7248, 7307, 7357, 7871, 7932, 8073, 8275, 8334, 8394, 8453, 8513, 8572, 8632, 8686, 9043, 9102, 9154, 9245, 9304, 9364, 9423, 9483, 9542, 9602, 9661, 9721, 9776, 9909, 9957];
const s6110 = [4, 62, 123, 181, 206, 267, 325, 386, 444, 505, 563, 624, 682, 743, 801, 862, 920, 974, 1014, 1072, 1133, 1176, 1216, 1274, 1335, 1393, 1454, 1519, 1580, 1638, 1699, 1757, 1818, 1876, 1937, 2004, 2105, 2163, 2224, 2282, 2343, 2401, 2462, 2520, 2581, 2650, 2771, 2829, 2890, 2948, 3009, 3067, 3128, 3216, 3317, 3394, 3495, 3553, 3614, 3672, 3733, 3791, 3852, 3931, 4040, 4098, 4159, 4217, 4278, 4364, 4404, 4462, 4523, 4581, 4642, 4700, 4761, 4819, 4880, 4938, 5010, 5038, 5119, 5177, 5238, 5296, 5353, 5394, 5452, 5513, 5576, 5636, 5694, 5755, 5813, 5874, 5932, 5993, 6051, 6112, 6170, 6231, 6289, 6350, 6408, 6469, 6527, 6588, 6646, 6707, 6767, 6825, 6886, 6944, 7005, 7063, 7124, 7156, 7257, 7315, 7376, 7434, 7495, 7553, 7600, 7620, 7678, 7739, 7797, 7858, 7916, 7977, 8035, 8096, 8154, 8186, 8234, 8292, 8353, 8411, 8472, 8530, 8591, 8649, 8711, 8772, 8830, 8891, 8974, 9034, 9095, 9153, 9214, 9272, 9333, 9391, 9452, 9510, 9571, 9629, 9690, 9748, 9809, 9867, 9928, 9980];
const m6110 = [33, 92, 152, 236, 296, 355, 415, 474, 534, 593, 653, 712, 772, 831, 891, 947, 1043, 1102, 1245, 1304, 1364, 1423, 1486, 1609, 1668, 1728, 1787, 1847, 1906, 1970, 2134, 2193, 2253, 2312, 2372, 2431, 2491, 2550, 2615, 2800, 2859, 2919, 2978, 3038, 3097, 3524, 3583, 3643, 3702, 3762, 3821, 4069, 4128, 4188, 4247, 4433, 4492, 4552, 4611, 4671, 4730, 4790, 4849, 4909, 5148, 5207, 5267, 5324, 5423, 5482, 5544, 5665, 5724, 5784, 5843, 5903, 5962, 6022, 6081, 6141, 6200, 6260, 6319, 6379, 6438, 6498, 6557, 6617, 6676, 6737, 6796, 6855, 6915, 6974, 7034, 7093, 7140, 7286, 7345, 7405, 7464, 7524, 7649, 7708, 7768, 7827, 7887, 7946, 8006, 8065, 8125, 8263, 8322, 8382, 8441, 8501, 8560, 8620, 8680, 8801, 8860, 9124, 9183, 9243, 9302, 9362, 9421, 9481, 9540, 9600, 9659, 9719, 9778, 9838, 9897, 9954];
const s6109 = [0, 44, 85, 182, 315, 388, 448, 509, 558, 703, 751, 812, 1006, 1067, 1127, 1188, 1248, 1309, 1366, 1588, 1648, 1721, 1903, 1988, 2048, 2109, 2198, 2351, 2412, 2472, 2533, 2594, 2654, 2715, 2763, 2860, 2969, 3066, 3127, 3188, 3236, 3357, 3414, 3475, 3523, 3632, 3717, 3778, 3838, 3911, 3972, 4032, 4141, 4202, 4250, 4347, 4408, 4687, 4832, 4893, 5026, 5087, 5147, 5196, 5402, 5523, 5656, 5693, 5778, 5838, 5899, 5959, 6020, 6153, 6214, 6262, 6323, 6383, 6444, 6505, 6638, 6699, 6747, 6772, 6873, 6933, 6994, 7055, 7115, 7200, 7261, 7321, 7382, 7491, 7552, 7612, 7661, 7709, 7830, 7879, 7952, 7996, 8133, 8194, 8242, 8303, 8364, 8424, 8485, 8549, 8606, 8739, 8836, 8945, 9006, 9067, 9127, 9236, 9297, 9358, 9418, 9467, 9600, 9660, 9721, 9782, 9842, 9927];
const s6108 = [12, 154, 206, 267, 327, 388, 436, 521, 606, 703, 836, 897, 945, 1030, 1115, 1176, 1236, 1337, 1454, 1527, 1660, 1745, 1818, 1878, 1988, 2048, 2109, 2170, 2230, 2291, 2351, 2416, 2557, 2618, 2678, 2739, 2800, 2860, 2921, 2981, 3030, 3188, 3285, 3345, 3402, 3523, 3620, 3681, 3741, 3790, 3947, 3996, 4044, 4250, 4311, 4396, 4444, 4505, 4614, 4650, 4772, 4832, 4941, 5002, 5062, 5123, 5184, 5244, 5305, 5378, 5450, 5560, 5778, 5875, 5935, 5996, 6056, 6117, 6178, 6238, 6299, 6359, 6420, 6553, 6602, 6675, 6735, 6772, 6836, 6970, 7030, 7273, 7333, 7394, 7503, 7588, 7648, 7806, 7867, 7915, 8024, 8085, 8170, 8291, 8351, 8412, 8485, 8582, 8654, 8715, 8776, 8836, 8885, 8961, 9006, 9103, 9188, 9248, 9309, 9370, 9430, 9636, 9733, 9854, 9927];
const s6107 = [8, 48, 158, 267, 339, 545, 691, 739, 812, 873, 1054, 1115, 1200, 1345, 1454, 1491, 1600, 1685, 1818, 1963, 2206, 2279, 2376, 2436, 2557, 2618, 2776, 2812, 3018, 3151, 3285, 3345, 3451, 3608, 3669, 3729, 3911, 3972, 3996, 4081, 4174, 4210, 4384, 4481, 4578, 4699, 4772, 4869, 4990, 5050, 5087, 5147, 5220, 5281, 5329, 5402, 5462, 5547, 5608, 5729, 5899, 5935, 6141, 6214, 6275, 6359, 6420, 6481, 6578, 6675, 6711, 6752, 6812, 6909, 6970, 7055, 7115, 7176, 7224, 7418, 7527, 7661, 7709, 7806, 7915, 8012, 8073, 8133, 8194, 8255, 8436, 8497, 8558, 8618, 8679, 8739, 8788, 8909, 8982, 9127, 9248, 9309, 9370, 9430, 9491, 9551, 9612, 9660, 9709, 9854, 9891, 9951];
const s6106 = [12, 65, 194, 291, 376, 521, 582, 776, 1139, 1188, 1297, 1345, 1442, 1539, 1636, 1745, 1830, 2060, 2230, 2279, 2351, 2412, 2472, 2533, 2594, 2654, 2763, 2836, 3018, 3163, 3236, 3463, 3729, 3790, 3863, 4141, 4408, 4481, 4650, 4796, 4893, 4990, 5050, 5099, 5159, 5232, 5523, 5596, 5717, 5766, 5875, 5935, 5996, 6056, 6444, 6505, 6565, 6626, 6667, 6812, 6958, 7018, 7079, 7139, 7188, 7321, 7442, 7552, 7612, 7855, 7903, 8012, 8073, 8133, 8194, 8242, 8327, 8388, 8497, 8606, 8691, 8885, 8921, 9018, 9224, 9297, 9394, 9454, 9551, 9612, 9757, 9879, 9915];
const s6105 = [133, 206, 267, 327, 388, 436, 545, 606, 642, 764, 848, 873, 1030, 1067, 1273, 1539, 1600, 1660, 1709, 1806, 1879, 2012, 2073, 2157, 2230, 2327, 2388, 2448, 2545, 2606, 2666, 2727, 2848, 2921, 2981, 3042, 3103, 3188, 3260, 3402, 3657, 3851, 3911, 3959, 4008, 4129, 4214, 4299, 4360, 4408, 4469, 4565, 4626, 4675, 4735, 5050, 5123, 5281, 5438, 5499, 6020, 6056, 6141, 6202, 6275, 6384, 6444, 6505, 6565, 6679, 6764, 6861, 6933, 7103, 7188, 7273, 7333, 7394, 7588, 7685, 7745, 7806, 7867, 8012, 8085, 8145, 8206, 8315, 8400, 8473, 8533, 8654, 8739, 8812, 8945, 9054, 9248, 9309, 9394, 9527, 9697, 9770, 9939];
const s6104 = [360, 715, 897, 1164, 1988, 3439, 3499, 4129, 4347, 5402, 6141, 6469, 7139, 7176, 7794, 7891, 8279, 9030, 9406, 9588];
const s6103 = [448, 1139, 1188, 1321, 1357, 1527, 1685, 1770, 2000, 2678, 2727, 3373, 3741, 3790, 3826, 3911, 4275, 4444, 4820, 4966, 5099, 5159, 5317, 5693, 5778, 5887, 6165, 6578, 6958, 7151, 7212, 7430, 7527, 7915, 8279, 8315, 8473, 8667, 8836, 9054, 9212, 9394, 9467, 9660, 9794];
const s6102 = [36, 133, 170, 226, 327, 497, 873, 933, 1139, 1564, 1600, 1640, 1939, 2012, 2157, 2509, 2545, 3236, 3414, 3923, 5620, 6250, 6650, 6764, 7430, 7770, 8218, 8255, 8509, 8764, 9721, 9891];
const s6101 = [109, 218, 279, 824, 1430, 1612, 2000, 2472, 3414, 4178, 4432, 4505, 4881, 5120, 5150, 5438, 5596, 6190, 6347, 6420, 6456, 6614, 6675, 7127, 7176, 7713, 7915, 7988, 8048, 8121, 8533, 9018, 9382, 9955, 9975];
const s6100 = [339, 1200, 1818, 2557, 5596, 5814];
const s6099 = [2448, 2654, 3006, 3705, 4166];
const s6098 = [4541, 4966, 6505, 9212];
const s6097 = [1745, 4663, 8121, 8206, 8473];
const s6096 = [5070, 5905];
const s6095 = [6747];
const s6094 = [2738];
const s6093 = [8102];

const adcLevels = [6143, 6139, 6137, 6136, 6135, 6134, 6133, 6132, 6131, 6130, 6129, 6128, 6127, 6126, 6125, 6124, 6123, 6123, 6122, 6122, 6121, 6121, 6120, 6120, 6119, 6119, 6118, 6118, 6117, 6117, 6116, 6116, 6115, 6115, 6114, 6114, 6113, 6113, 6112, 6112, 6111, 6111, 6110, 6110, 6109, 6108, 6107, 6106, 6105, 6104, 6103, 6102, 6101, 6100, 6099, 6098, 6097, 6096, 6095, 6094, 6093];
const samplesByLevel = [s6143, s6139, s6137, s6136, s6135, s6134, s6133, s6132, s6131, s6130, s6129, s6128, s6127, s6126, s6125, s6124, s6123, m6123, s6122, m6122, s6121, m6121, s6120, m6120, s6119, m6119, s6118, m6118, s6117, m6117, s6116, m6116, s6115, m6115, s6114, m6114, s6113, m6113, s6112, m6112, s6111, m6111, s6110, m6110, s6109, s6108, s6107, s6106, s6105, s6104, s6103, s6102, s6101, s6100, s6099, s6098, s6097, s6096, s6095, s6094, s6093];

const points = adcLevels.flatMap((level, i) => samplesByLevel[i].map((x) => ({ x, y: level })));

const FONT = '"DejaVu Sans"';

const framePlugin = {
  id: "frameAndLegend",
  afterDraw(chart: any) {
    const { ctx, chartArea: a } = chart;
    ctx.save();
    ctx.strokeStyle = "#000";
    ctx.lineWidth = 1.1;
    ctx.strokeRect(a.left, a.top, a.right - a.left, a.bottom - a.top);

    const bx = 771.5, by = 42.5, bw = 206.5, bh = 45, r = 3;
    ctx.beginPath();
    ctx.roundRect(bx, by, bw, bh, r);
    ctx.fillStyle = "rgba(255,255,255,0.8)";
    ctx.fill();
    ctx.strokeStyle = "#d5d5d5";
    ctx.lineWidth = 1;
    ctx.stroke();

    ctx.fillStyle = "#000";
    ctx.beginPath();
    ctx.arc(790.5, 65, 2.78, 0, Math.PI * 2);
    ctx.fill();

    ctx.textBaseline = "alphabetic";
    ctx.textAlign = "left";
    ctx.font = `13.89px ${FONT}`;
    ctx.fillText(legendName, 815.5, 59);
    const italic = `italic 13.89px ${FONT}`;
    const normal = `13.89px ${FONT}`;
    const y = 76;
    const runs: [string, number, string][] = [
      ["μ", 815.5, italic],
      ["=", 830, normal],
      ["6117.04,", 845, normal],
      ["σ", 911, italic],
      ["=", 925, normal],
      ["6.18", 941, normal],
    ];
    runs.forEach(([t, x, f]) => {
      ctx.font = f;
      ctx.fillText(t, x, y);
    });
    ctx.restore();
  },
};

export default function App() {
  const ref = useRef<HTMLCanvasElement>(null);
  useEffect(() => {
    document.body.style.margin = "0";
    const chart = new Chart(ref.current!, {
      type: "scatter",
      data: {
        datasets: [
          {
            label: legendName,
            data: points,
            backgroundColor: "#000",
            borderWidth: 0,
            pointRadius: 2.78,
            pointHoverRadius: 2.78,
          },
        ],
      },
      options: {
        animation: false,
        responsive: false,
        devicePixelRatio: 1,
        layout: { padding: { left: 0, right: 15, top: 0, bottom: 0 } },
        plugins: {
          legend: { display: false },
          tooltip: { enabled: false },
          title: {
            display: true,
            fullSize: false,
            text: titleText,
            color: "#000",
            font: { family: FONT, size: 16.67, weight: "normal", lineHeight: 1.2 },
            padding: { top: 13, bottom: 2 },
          },
        },
        scales: {
          x: {
            type: "linear",
            min: -495,
            max: 10503,
            afterBuildTicks: (axis: any) => {
              axis.ticks = xTicks.map((value) => ({ value }));
            },
            afterFit: (axis: any) => {
              axis.height = 59;
            },
            ticks: {
              color: "#000",
              font: { family: FONT, size: 13.89 },
              maxRotation: 0,
              autoSkip: false,
              padding: 3,
              callback: (v: any) => String(v),
            },
            grid: { color: "#b0b0b0", lineWidth: 1.1, tickColor: "#000", tickLength: 5, tickWidth: 1.1 },
            border: { display: false },
            title: {
              display: true,
              text: xLabel,
              color: "#000",
              font: { family: FONT, size: 13.89 },
              padding: { top: 4, bottom: 13 },
            },
          },
          y: {
            type: "linear",
            min: 6090.57,
            max: 6145.57,
            afterBuildTicks: (axis: any) => {
              axis.ticks = yTicks.map((value) => ({ value }));
            },
            afterFit: (axis: any) => {
              axis.width = 81;
            },
            ticks: {
              color: "#000",
              font: { family: FONT, size: 13.89 },
              autoSkip: false,
              padding: 5,
              callback: (v: any) => String(v),
            },
            grid: { color: "#b0b0b0", lineWidth: 1.1, tickColor: "#000", tickLength: 5, tickWidth: 1.1 },
            border: { display: false },
            title: {
              display: true,
              text: yLabel,
              color: "#000",
              font: { family: FONT, size: 13.89 },
              padding: { top: 13, bottom: 4 },
            },
          },
        },
      },
      plugins: [framePlugin],
    } as any);
    return () => chart.destroy();
  }, []);
  return (
    <div style={{ width: 1000, height: 1000, position: "absolute", left: 0, top: 0 }}>
      <canvas ref={ref} width={1000} height={1000} style={{ display: "block" }} />
    </div>
  );
}
